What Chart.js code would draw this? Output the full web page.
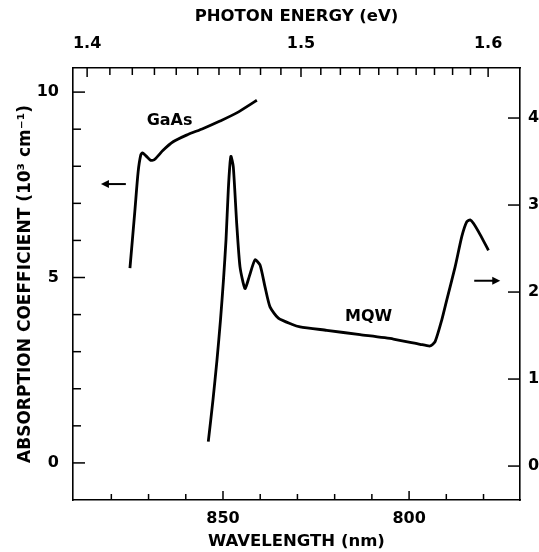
<!DOCTYPE html>
<html>
<head>
<meta charset="utf-8">
<script src="https://cdn.jsdelivr.net/npm/chart.js@4.4.1/dist/chart.umd.min.js"></script>
<style>
  html, body { margin: 0; padding: 0; background: #fff; }
  canvas { display: block; }
</style>
</head>
<body>
<canvas id="myChart" width="539" height="552"></canvas>
<script>
// GaAs: absorption coefficient (10^3 cm^-1, left axis) vs wavelength (nm)
const gaasWavelength = [875.0, 873.7, 872.8, 872.1, 871.6, 870.7, 869.4, 868.3, 866.1, 863.4, 859.8, 855.3, 850.8, 846.3, 840.9];
const gaasAbsorption = [5.25, 6.77, 7.85, 8.30, 8.36, 8.28, 8.16, 8.19, 8.43, 8.66, 8.84, 9.02, 9.22, 9.44, 9.78];

// MQW: absorption (right axis) vs wavelength (nm)
const mqwWavelength = [853.95, 852.69, 851.61, 850.67, 849.87, 849.19, 848.58, 848.12, 847.85, 847.23, 846.32, 845.43, 844.09, 842.93, 841.40, 840.05, 838.71, 837.37, 835.13, 831.53, 829.30, 822.12, 813.17, 804.22, 797.04, 794.35, 793.01, 791.21, 789.87, 787.63, 785.83, 784.49, 783.60, 782.72, 780.91, 778.68];
const mqwAbsorption = [0.28, 0.76, 1.22, 1.68, 2.14, 2.60, 3.17, 3.48, 3.56, 3.44, 2.79, 2.29, 2.04, 2.18, 2.37, 2.31, 2.06, 1.83, 1.70, 1.63, 1.60, 1.56, 1.51, 1.46, 1.40, 1.38, 1.43, 1.68, 1.91, 2.29, 2.64, 2.81, 2.83, 2.79, 2.66, 2.48];

// tick marks
const wavelengthTicks = [880, 870, 860, 850, 840, 830, 820, 810, 800, 790, 780];
const wavelengthLabels = [850, 800];
const energyTicks = [1.40, 1.41, 1.42, 1.43, 1.44, 1.45, 1.46, 1.47, 1.48, 1.49, 1.50, 1.51, 1.52, 1.53, 1.54, 1.55, 1.56, 1.57, 1.58, 1.59, 1.60];
const energyLabels = [1.4, 1.5, 1.6];
const leftTicks = [0, 1, 2, 3, 4, 5, 6, 7, 8, 9, 10];
const leftLabels = [0, 5, 10];
const rightTicks = [0, 1, 2, 3, 4];

const FONT = "'DejaVu Sans', sans-serif";
const toPoints = (xs, ys) => xs.map((x, i) => ({ x: x, y: ys[i] }));
const nmFromEv = (e) => 1239.84 / e;

// ticks drawn inward from each axis
const tickStyle = {
  x:  { dir: -1, minor: 6, major: 9, majors: wavelengthLabels },
  xTop: { dir: 1, minor: 7, major: 9, majors: energyLabels.map(nmFromEv) },
  y:  { dir: 1, minor: 8, major: 12, majors: leftLabels },
  y2: { dir: -1, minor: 12, major: 12, majors: rightTicks },
};

const inwardTicks = {
  id: 'inwardTicks',
  afterDatasetsDraw(chart) {
    const ctx = chart.ctx;
    ctx.save();
    ctx.strokeStyle = '#000';
    ctx.lineWidth = 1.5;
    for (const id in tickStyle) {
      const scale = chart.scales[id];
      const st = tickStyle[id];
      scale.ticks.forEach(t => {
        const p = scale.getPixelForValue(t.value);
        const isMajor = st.majors.some(m => Math.abs(m - t.value) < 1e-6);
        const len = isMajor ? st.major : st.minor;
        ctx.beginPath();
        if (scale.isHorizontal()) {
          const y0 = id === 'x' ? scale.top : scale.bottom;
          ctx.moveTo(p, y0);
          ctx.lineTo(p, y0 + st.dir * len);
        } else {
          const x0 = id === 'y' ? scale.right : scale.left;
          ctx.moveTo(x0, p);
          ctx.lineTo(x0 + st.dir * len, p);
        }
        ctx.stroke();
      });
    }
    ctx.restore();
  }
};

// curve names and the two arrows pointing to their axes
const notes = {
  id: 'notes',
  afterDatasetsDraw(chart) {
    const { ctx, scales } = chart;
    const x = scales.x, y = scales.y, y2 = scales.y2;
    ctx.save();
    ctx.fillStyle = '#000';
    ctx.strokeStyle = '#000';
    ctx.font = 'bold 16px ' + FONT;
    ctx.textBaseline = 'middle';
    ctx.textAlign = 'left';
    ctx.fillText('GaAs', x.getPixelForValue(870.5), y.getPixelForValue(9.22));
    ctx.fillText('MQW', x.getPixelForValue(817.2), y2.getPixelForValue(1.72));

    const arrow = (x0, x1, yy) => {
      const dir = Math.sign(x1 - x0);
      ctx.lineWidth = 2;
      ctx.beginPath();
      ctx.moveTo(x0, yy);
      ctx.lineTo(x1 - dir * 6, yy);
      ctx.stroke();
      ctx.beginPath();
      ctx.moveTo(x1, yy);
      ctx.lineTo(x1 - dir * 8, yy - 4);
      ctx.lineTo(x1 - dir * 8, yy + 4);
      ctx.closePath();
      ctx.fill();
    };
    arrow(x.getPixelForValue(876.1), x.getPixelForValue(882.8), y.getPixelForValue(7.52));
    arrow(x.getPixelForValue(782.5), x.getPixelForValue(775.5), y2.getPixelForValue(2.13));
    ctx.restore();
  }
};

const axisBorder = { display: true, color: '#000', width: 1.6 };
const noGrid = { display: false, drawTicks: false };
const tickFont = { family: FONT, size: 16, weight: 'bold' };
const titleFont = { family: FONT, size: 16.5, weight: 'bold' };

const ctx = document.getElementById('myChart').getContext('2d');
const myChart = new Chart(ctx, {
  type: 'line',
  data: {
    datasets: [
      {
        label: 'GaAs',
        data: toPoints(gaasWavelength, gaasAbsorption),
        xAxisID: 'x',
        yAxisID: 'y',
        borderColor: '#000',
        borderWidth: 2.8,
        pointRadius: 0,
        tension: 0.25,
        fill: false,
      },
      {
        label: 'MQW',
        data: toPoints(mqwWavelength, mqwAbsorption),
        xAxisID: 'x',
        yAxisID: 'y2',
        borderColor: '#000',
        borderWidth: 2.8,
        pointRadius: 0,
        tension: 0.2,
        fill: false,
      },
    ],
  },
  options: {
    responsive: false,
    animation: false,
    devicePixelRatio: 1,
    layout: { padding: 0 },
    plugins: {
      legend: { display: false },
      tooltip: { enabled: false },
    },
    scales: {
      x: {
        type: 'linear',
        position: 'bottom',
        reverse: true,
        min: 770.2,
        max: 890.3,
        grid: noGrid,
        border: axisBorder,
        afterBuildTicks: (s) => { s.ticks = wavelengthTicks.map(v => ({ value: v })); },
        afterFit: (s) => { s.height = 52; },
        ticks: {
          autoSkip: false,
          maxRotation: 0,
          padding: 9,
          color: '#000',
          font: tickFont,
          callback: (v) => wavelengthLabels.includes(v) ? String(v) : '',
        },
        title: {
          display: true,
          text: 'WAVELENGTH (nm)',
          color: '#000',
          font: titleFont,
          padding: { top: 0, bottom: 0 },
        },
      },
      xTop: {
        type: 'linear',
        position: 'top',
        reverse: true,
        min: 766.1,
        max: 889.5,
        grid: noGrid,
        border: axisBorder,
        afterBuildTicks: (s) => { s.ticks = energyTicks.map(e => ({ value: nmFromEv(e) })); },
        afterFit: (s) => { s.height = 68; },
        ticks: {
          autoSkip: false,
          maxRotation: 0,
          padding: 15,
          color: '#000',
          font: tickFont,
          callback: (v, i) => {
            const e = energyTicks[i];
            const hit = energyLabels.find(l => Math.abs(l - e) < 1e-6);
            return hit === undefined ? '' : hit.toFixed(1);
          },
        },
        title: {
          display: true,
          text: 'PHOTON ENERGY (eV)',
          color: '#000',
          font: titleFont,
          padding: { top: 7, bottom: 0 },
        },
      },
      y: {
        type: 'linear',
        position: 'left',
        min: -1,
        max: 10.65,
        grid: noGrid,
        border: axisBorder,
        afterBuildTicks: (s) => { s.ticks = leftTicks.map(v => ({ value: v })); },
        afterFit: (s) => { s.width = 73; },
        ticks: {
          autoSkip: false,
          padding: 14,
          color: '#000',
          font: tickFont,
          callback: (v) => leftLabels.includes(v) ? String(v) : '',
        },
        title: {
          display: true,
          text: 'ABSORPTION COEFFICIENT (10³ cm⁻¹)',
          color: '#000',
          font: { family: FONT, size: 17, weight: 'bold' },
          padding: { top: 15, bottom: 0 },
        },
      },
      y2: {
        type: 'linear',
        position: 'right',
        min: -0.39,
        max: 4.575,
        grid: noGrid,
        border: axisBorder,
        afterBuildTicks: (s) => { s.ticks = rightTicks.map(v => ({ value: v })); },
        afterFit: (s) => { s.width = 19; },
        ticks: {
          autoSkip: false,
          padding: 8,
          color: '#000',
          font: tickFont,
          callback: (v) => String(v),
        },
      },
    },
  },
  plugins: [inwardTicks, notes],
});
</script>
</body>
</html>
